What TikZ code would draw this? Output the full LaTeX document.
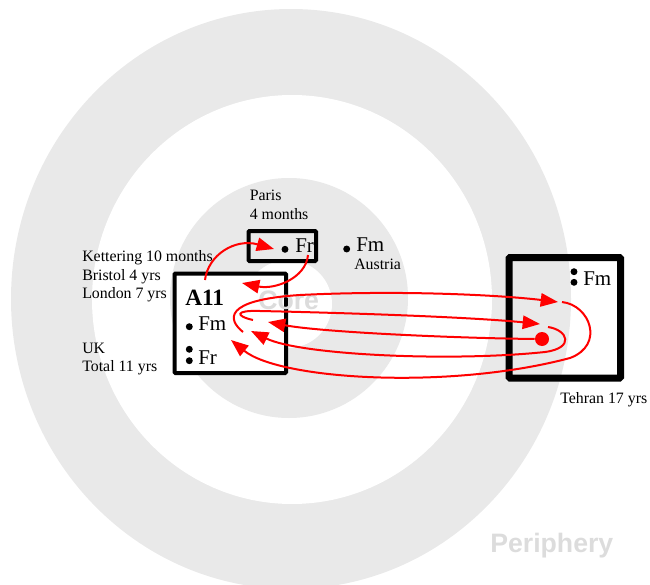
\documentclass[tikz,border=0pt]{standalone}
\usepackage{fontspec}
\setmainfont{Liberation Serif}
\newfontfamily\zonefont{Liberation Sans}
\usetikzlibrary{arrows.meta}
\definecolor{ringgray}{HTML}{E9E9E9}
\definecolor{zonegray}{HTML}{DCDCDC}
\tikzset{
  lbl/.style={anchor=base west, inner sep=0pt, font=\fontsize{11.9}{14}\selectfont},
  big/.style={anchor=base west, inner sep=0pt, font=\fontsize{15.75}{19}\selectfont},
  zone/.style={anchor=base west, inner sep=0pt, text=zonegray, font=\zonefont\bfseries\fontsize{20}{24}\selectfont},
  dot/.style={circle, fill, inner sep=0pt, minimum size=5.2pt},
  stay/.style={draw, line width=3pt, rounded corners=0.8pt},
  move/.style={red, line width=1.5pt, -{Triangle[length=13pt,width=10pt]}},
}

\begin{document}
\begin{tikzpicture}[x=0.75pt, y=-0.75pt]
  \useasboundingbox (0,0) rectangle (650,585);
  \clip (0,0) rectangle (650,585);

  \fill[ringgray] (291,299) ellipse [x radius=280, y radius=290];
  \fill[white] (292,299.5) ellipse [x radius=200, y radius=204.5];
  \fill[ringgray] (289,298) ellipse [x radius=119, y radius=120];
  \fill[white] (288,304) circle [radius=44];
  \node (periphery) at (490,552) [zone] {Periphery};

  \draw[stay, fill=white] (174.5,273.5) rectangle (286,373);
  \node (core) at (258,309) [zone] {Core};
  \draw[stay] (248.5,231) rectangle (316,261);
  \draw[stay, line width=5.25pt] (509,257.5) rectangle (620.5,378);

  \foreach \t [count=\k] in {Kettering 10 months, Bristol 4 yrs, London 7 yrs}
    \node (uk\k) at (82,243.4+18.3*\k) [lbl] {\t};
  \node (uk4) at (82,353) [lbl] {UK};
  \node (uk5) at (82,371.5) [lbl] {Total 11 yrs};
  \node (paris1) at (249.5,200.7) [lbl] {Paris};
  \node (paris2) at (249.5,219.3) [lbl] {4 months};
  \node (austria) at (354,269.3) [lbl] {Austria};
  \node (tehran) at (560,403.3) [lbl] {Tehran 17 yrs};

  \node (a11) at (185,305.7) [big, font=\bfseries\fontsize{17.5}{20}\selectfont] {A11};
  \node (ukfm) at (198,330) [big] {Fm};
  \node (ukfr) at (198,364) [big] {Fr};
  \node (parisfr) at (295,252.7) [big] {Fr};
  \node (austriafm) at (356,251.7) [big] {Fm};
  \node (tehranfm) at (583,285.7) [big] {Fm};

  \foreach \n/\x/\y in {b1/189.3/326.7, b2/189.3/349.3, b3/189.3/360.7, b4/285/249.3,
                        b5/346.7/249, b6/574/271.7, b7/574/282.3}
    \node (\n) at (\x,\y) [dot] {};
  \node (tehrandot) at (542,339) [dot, fill=red, minimum size=10.5pt] {};

  \coordinate (a11top) at (205,280);
  \coordinate (parisin) at (274,249);
  \coordinate (parisout) at (308,255);
  \coordinate (a11in1) at (242,283);
  \coordinate (a11out1) at (243,332);
  \coordinate (a11out2) at (253,320);
  \coordinate (a11in2) at (268,322);
  \coordinate (a11in3) at (251,331);
  \coordinate (a11in4) at (231,340);
  \coordinate (tehranin1) at (558,302);
  \coordinate (tehranin2) at (540,324);
  \coordinate (tehranout1) at (562,302);
  \coordinate (tehranout2) at (548,327);

  \draw[move] (a11top) .. controls (208,255) and (235,238) .. (parisin);
  \draw[move] (parisout) .. controls (306,278) and (275,290) .. (a11in1);
  \draw[move] (a11out1) .. controls (228,320) and (222,300) .. (300,295)
    .. controls (400,290) and (500,295) .. (tehranin1);
  \draw[move] (a11out2) .. controls (235,316) and (235,310) .. (260,311)
    .. controls (350,313) and (470,317) .. (tehranin2);
  \draw[move] (tehrandot.west) .. controls (450,338) and (320,332) .. (a11in2);
  \draw[move] (tehranout2) .. controls (568,330) and (575,348) .. (545,352)
    .. controls (450,362) and (300,355) .. (a11in3);
  \draw[move] (tehranout1) .. controls (590,305) and (605,345) .. (570,358)
    .. controls (450,390) and (280,380) .. (a11in4);
\end{tikzpicture}
\end{document}
